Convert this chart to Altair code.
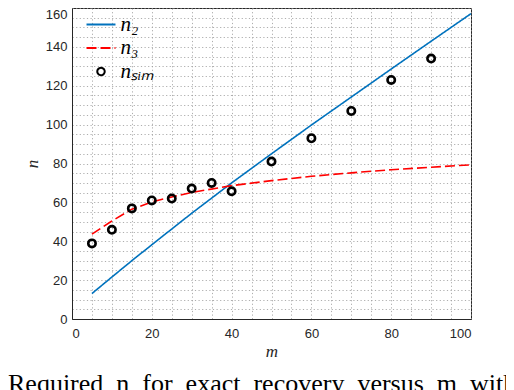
import altair as alt
import pandas as pd

# --- data ---
m_line = [5, 10, 15, 20, 25, 30, 40, 50, 60, 70, 80, 90, 100]
n2_vals = [13.1, 21.6, 30.0, 38.2, 46.3, 54.4, 70.0, 85.0, 99.8, 114.2, 128.6, 142.9, 157.1]
n3_vals = [43.7, 50.4, 56.5, 60.2, 62.8, 65.1, 68.6, 71.2, 73.4, 75.2, 76.8, 78.1, 79.3]

m_sim = [5, 10, 15, 20, 25, 30, 35, 40, 50, 60, 70, 80, 90]
n_sim = [38.9, 45.9, 56.9, 61.0, 62.0, 67.1, 70.0, 65.7, 81.0, 93.0, 107.0, 123.0, 134.0]

series = ["n\u2082", "n\u2083", "n\u209b\u1d62\u2098"]
colors = ["#0072BD", "#FF0000", "#000000"]
dashes = [[1, 0], [10, 4], [1, 0]]
LINE = "M-2,0L2,0"
R = 0.51
CIRC = f"M{R},0A{R},{R},0,1,1,-{R},0A{R},{R},0,1,1,{R},0Z"
shapes = [LINE, LINE, CIRC]

caption_words = ["Required", "n", "for", "exact", "recovery", "versus", "m", "with"]

x_ticks = list(range(0, 101, 5))
y_ticks = list(range(0, 161, 5))

lines_df = pd.DataFrame({
    "m": m_line + m_line,
    "n": n2_vals + n3_vals,
    "series": [series[0]] * len(m_line) + [series[1]] * len(m_line),
})
pts_df = pd.DataFrame({"m": m_sim, "n": n_sim, "series": [series[2]] * len(m_sim)})

legend = alt.Legend(
    orient="none", legendX=18.5, legendY=6, title=None,
    labelFont="Liberation Serif", labelFontStyle="italic", labelFontSize=21,
    labelColor="#000000", labelOffset=9, rowPadding=1.5, padding=0,
    symbolStrokeWidth=2.0, symbolSize=210,
)

color = alt.Color("series:N", scale=alt.Scale(domain=series, range=colors), legend=legend, title=None)
dash = alt.StrokeDash("series:N", scale=alt.Scale(domain=series, range=dashes), legend=legend, title=None)
shape = alt.Shape("series:N", scale=alt.Scale(domain=series, range=shapes), legend=legend, title=None)

x_enc = alt.X("m:Q", scale=alt.Scale(domain=[0, 100], nice=False),
              axis=alt.Axis(values=x_ticks, title="m",
                            labelExpr="datum.value % 20 == 0 ? datum.label : ''"))
y_enc = alt.Y("n:Q", scale=alt.Scale(domain=[0, 160], nice=False),
              axis=alt.Axis(values=y_ticks, title="n",
                            labelExpr="datum.value % 20 == 0 ? datum.label : ''",
                            labelBaseline={"condition": {"test": "datum.value >= 160", "value": "top"},
                                           "value": "middle"}))

lines = alt.Chart(lines_df).mark_line(strokeWidth=1.6).encode(
    x=x_enc, y=y_enc, color=color, strokeDash=dash, detail="series:N"
)
points = alt.Chart(pts_df).mark_point(filled=False, strokeWidth=2.6, opacity=1, size=210).encode(
    x=x_enc, y=y_enc, color=color, shape=shape
)

chart = alt.layer(lines, points).properties(
    width=399, height=311,
    autosize=alt.AutoSizeParams(type="none"),
    padding={"left": 64, "top": 0, "right": 35, "bottom": 71},
    title=alt.TitleParams(
        "\u2002".join(caption_words),
        orient="bottom", anchor="start", frame="group", dx=-64, offset=12,
        font="Liberation Serif", fontSize=26, fontWeight="normal", color="#000000",
    ),
).configure_view(
    stroke="#262626", strokeWidth=1
).configure_axis(
    grid=True, gridColor="#999999", gridDash=[1.2, 2.4], gridWidth=0.8, gridOpacity=1,
    domainColor="#262626", domainWidth=1, ticks=False,
    labelFont="Liberation Sans", labelFontSize=13, labelColor="#262626",
    titleFont="Liberation Serif", titleFontStyle="italic", titleFontWeight="normal",
    titleFontSize=17, titleColor="#262626",
).configure_axisX(
    labelPadding=8, titlePadding=3
).configure_axisY(
    labelPadding=5, titlePadding=4
)

chart.save("out.html", embed_options={"renderer": "svg", "actions": False})
